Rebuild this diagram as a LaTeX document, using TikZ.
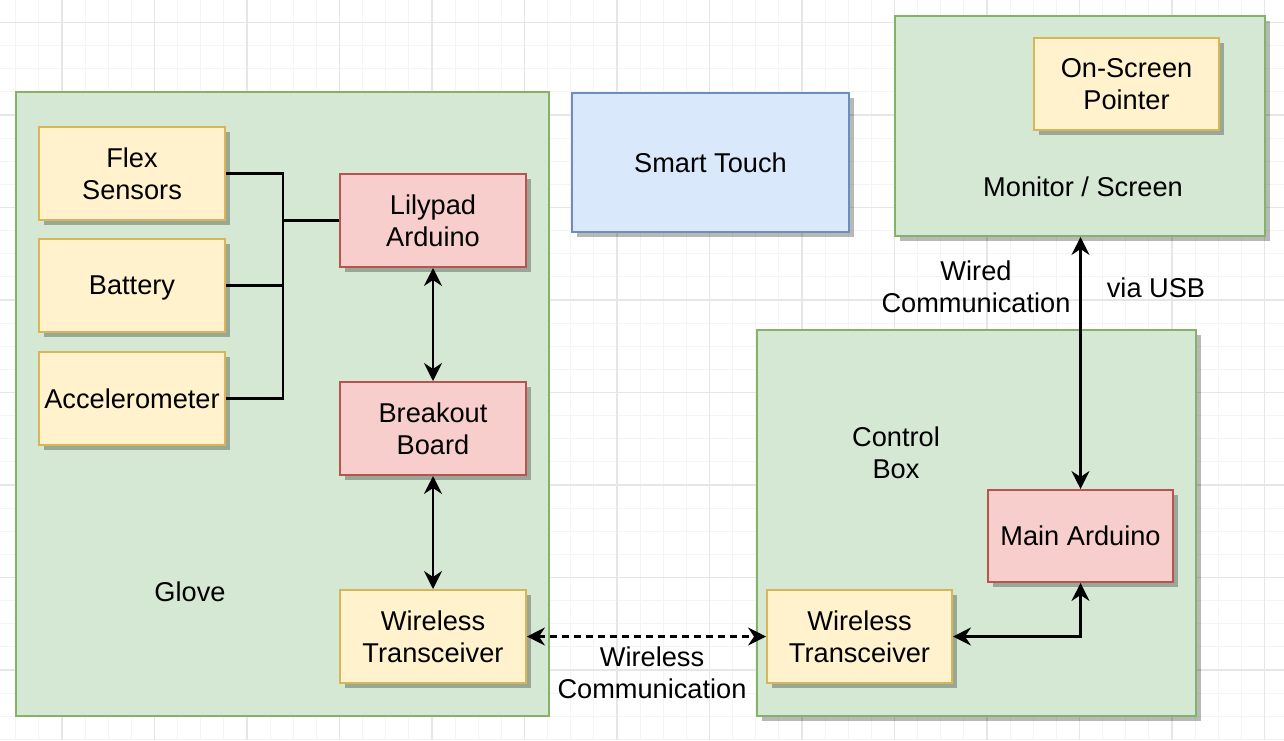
\documentclass[tikz,border=0pt]{standalone}
\usepackage{fontspec}
\setmainfont{Liberation Sans}
\usetikzlibrary{arrows.meta,shadows}
\definecolor{gfill}{HTML}{D5E8D4}\definecolor{gline}{HTML}{82B366}
\definecolor{yfill}{HTML}{FFF2CC}\definecolor{yline}{HTML}{D6B656}
\definecolor{rfill}{HTML}{F8CECC}\definecolor{rline}{HTML}{B85450}
\definecolor{bfill}{HTML}{DAE8FC}\definecolor{bline}{HTML}{6C8EBF}
\definecolor{minorg}{HTML}{F4F4F4}\definecolor{majorg}{HTML}{E6E6E6}
\tikzset{
  shd/.style={drop shadow={shadow xshift=2.5pt,shadow yshift=-2.5pt,fill=black,opacity=0.28}},
  box/.style={rectangle,draw,line width=1pt,inner sep=0pt,align=center,
    font=\fontsize{13.6}{16}\selectfont,shd},
  ybox/.style={box,fill=yfill,draw=yline,minimum width=93pt,minimum height=46.5pt},
  rbox/.style={box,fill=rfill,draw=rline,minimum width=93pt,minimum height=46.5pt},
  container/.style={rectangle,draw=gline,fill=gfill,line width=1pt,inner sep=0pt},
  lbl/.style={align=center,font=\fontsize{13.6}{16}\selectfont,inner sep=0pt},
  wire/.style={line width=1.1pt,black},
  biarrow/.style={wire,{Stealth[length=9pt,width=9pt,inset=3pt]}-{Stealth[length=9pt,width=9pt,inset=3pt]}},
  minorline/.style={draw=minorg,line width=0.5pt},
  majorline/.style={draw=majorg,line width=0.6pt}
}
\begin{document}
\begin{tikzpicture}[x=0.5pt,y=-0.5pt]
\useasboundingbox (0,0) rectangle (1284,740);
\fill[white] (0,0) rectangle (1284,740);
% grid
\foreach \k in {-2,...,53} \draw[minorline] ({62+23.125*\k},0) -- ({62+23.125*\k},740);
\foreach \k in {-1,...,32} \draw[minorline] (0,{22.5+23.125*\k}) -- (1284,{22.5+23.125*\k});
\foreach \k in {-1,...,13} \draw[majorline] ({62+92.5*\k},0) -- ({62+92.5*\k},740);
\foreach \k in {0,...,8} \draw[majorline] (0,{22.5+92.5*\k}) -- (1284,{22.5+92.5*\k});
% containers
\node[container,minimum width=266.5pt,minimum height=312pt] (glove) at (282.5,404) {};
\node[container,shd,minimum width=185pt,minimum height=110pt] (monitor) at (1080,126) {};
\node[container,shd,minimum width=219.5pt,minimum height=193pt] (control) at (976.5,523) {};
\node[lbl] (glovelbl) at (190,592) {Glove};
\node[lbl] (monitorlbl) at (1083,187) {Monitor / Screen};
\node[lbl] (controllbl) at (896,453) {Control\\Box};
% boxes
\node[ybox] (flex) at (132,173.5) {Flex\\Sensors};
\node[ybox,text depth=0pt] (battery) at (132,285.5) {Battery};
\node[ybox] (accel) at (132,398.5) {Accelerometer};
\node[rbox] (lily) at (433,220.5) {Lilypad\\Arduino};
\node[rbox] (breakout) at (433,428.5) {Breakout\\Board};
\node[ybox] (wtg) at (433,636.5) {Wireless\\Transceiver};
\node[ybox,minimum width=92.5pt] (wtc) at (859.5,636.5) {Wireless\\Transceiver};
\node[rbox,minimum width=92.5pt,minimum height=46pt] (mainard) at (1080.5,536) {Main Arduino};
\node[ybox,minimum width=92.5pt,minimum height=46pt] (pointer) at (1126.5,84) {On-Screen\\Pointer};
\node[box,fill=bfill,draw=bline,minimum width=138.5pt,minimum height=69.5pt] (smart) at (710.5,162.5) {Smart Touch};
% connectors
\coordinate (j) at (283,220.5);
\draw[wire] (flex.east) -| (j);
\draw[wire] (accel.east) -| (j);
\draw[wire] (battery.east) -- (battery.east -| j);
\draw[wire] (j) -- (lily.west);
\draw[biarrow] (lily.south) -- (breakout.north);
\draw[biarrow] (breakout.south) -- (wtg.north);
\draw[biarrow,dash pattern=on 3.5pt off 2.5pt] (wtg.east) -- (wtc.west);
\draw[biarrow] (wtc.east) -| (mainard.south);
\draw[biarrow] (mainard.north) -- (mainard.north |- monitor.south);
% labels
\node[lbl] (wiredlbl) at (976,287) {Wired\\Communication};
\node[lbl] (usblbl) at (1156,288) {via USB};
\node[lbl] (wirelesslbl) at (652,673) {Wireless\\Communication};
\end{tikzpicture}
\end{document}
